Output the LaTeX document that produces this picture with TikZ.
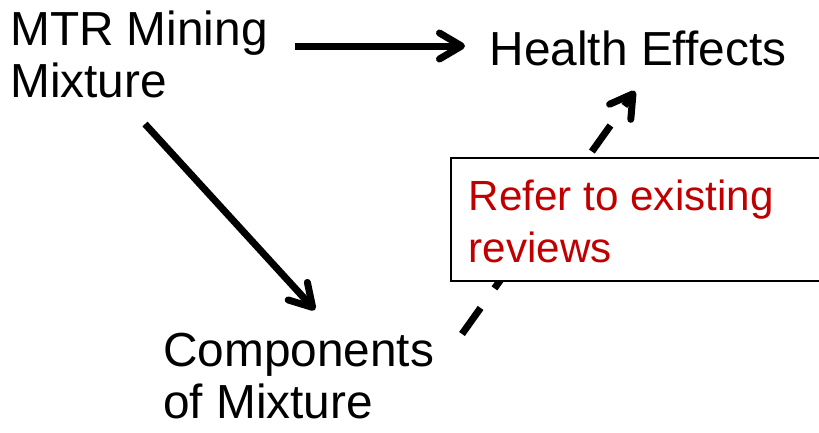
\documentclass[tikz,border=0pt]{standalone}
\usepackage{fontspec}
\setmainfont{Liberation Sans}
\usetikzlibrary{arrows.meta}
\definecolor{boxred}{RGB}{192,0,0}
\tikzset{
  lbl/.style={inner sep=0pt, anchor=base west, align=left, font=\fontsize{47.8}{52}\selectfont},
  redlbl/.style={inner sep=0pt, anchor=base west, align=left, text=boxred, font=\fontsize{42.2}{52}\selectfont},
  conn/.style={line width=7pt, line cap=butt, -{Straight Barb[length=22pt, width=26pt, round]}},
  dashconn/.style={conn, dash pattern=on 32pt off 24pt},
  notebox/.style={draw=black, fill=white, line width=1.5pt}
}
\begin{document}
\begin{tikzpicture}[x=1pt, y=-1pt]
\useasboundingbox (0,0) rectangle (819,432);
\node[lbl] (mtr) at (10,97) {MTR Mining\\Mixture};
\node[lbl] (health) at (489.5,65) {Health Effects};
\node[lbl] (comp) at (163,418) {Components\\of Mixture};
\coordinate (a1s) at (295,46);
\coordinate (a1e) at (465,46);
\coordinate (a2s) at (145,124);
\coordinate (a2e) at (315,310);
\coordinate (a3s) at (462,334);
\coordinate (a3e) at (635,91);
\draw[conn] (a1s) -- (a1e);
\draw[conn] (a2s) -- (a2e);
\draw[dashconn] (a3s) -- (a3e);
\draw[notebox] (451,158) rectangle (835,281);
\node[redlbl] (note) at (468.5,262) {Refer to existing\\reviews};
\end{tikzpicture}
\end{document}
